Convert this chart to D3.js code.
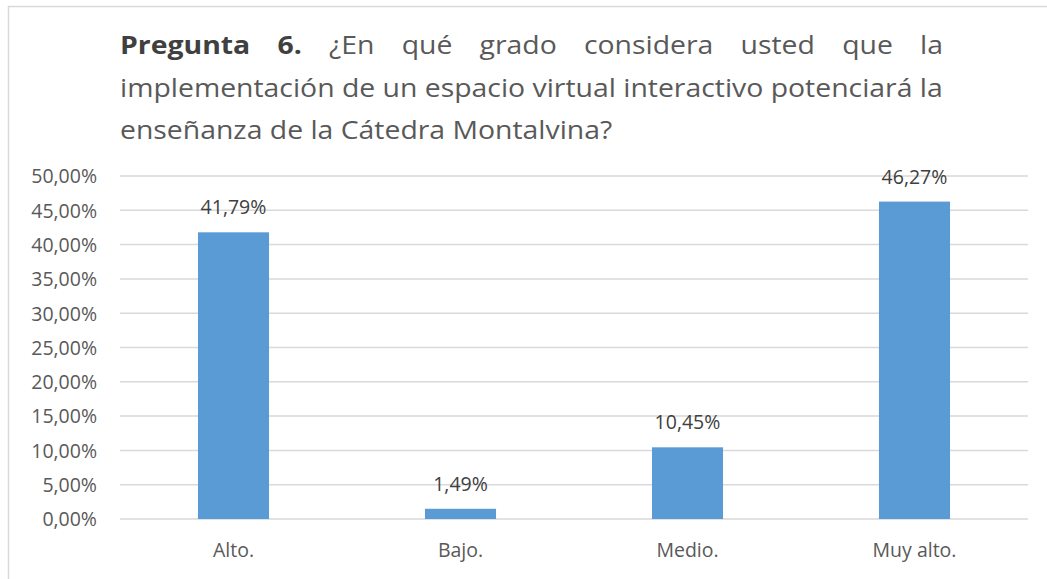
<!DOCTYPE html>
<html><head><meta charset="utf-8">
<script src="https://cdn.jsdelivr.net/npm/d3@7"></script>
<style>body{margin:0;background:#fff}svg{display:block}text{font-family:"Open Sans",sans-serif}</style>
</head><body>
<svg id="c" width="1047" height="579"></svg>
<script>
const categories = ["Alto.", "Bajo.", "Medio.", "Muy alto."];
const values = [41.79, 1.49, 10.45, 46.27];
const valueLabels = ["41,79%", "1,49%", "10,45%", "46,27%"];
const yTicks = [0, 5, 10, 15, 20, 25, 30, 35, 40, 45, 50];
const titleBold = "Pregunta 6.";
const titleLines = [
  "¿En qué grado considera usted que la",
  "implementación de un espacio virtual interactivo potenciará la",
  "enseñanza de la Cátedra Montalvina?"
];

const svg = d3.select("#c");
const W = 1047, H = 579;
const pLeft = 120, pRight = 1028, pTop = 176, pBottom = 519;
const txt = "#595959";
const lblSize = 19.5;

// border
svg.append("line").attr("x1", 8).attr("x2", W).attr("y1", 6.5).attr("y2", 6.5).attr("stroke", "#d9d9d9").attr("stroke-width", 1.5);
svg.append("line").attr("x1", 8.5).attr("x2", 8.5).attr("y1", 6).attr("y2", H).attr("stroke", "#d9d9d9").attr("stroke-width", 1.5);

const x = d3.scaleBand().domain(categories).range([pLeft, pRight]).paddingInner(0.687).paddingOuter(0.3435);
const y = d3.scaleLinear().domain([0, 50]).range([pBottom, pTop]);

// gridlines
svg.append("g").selectAll("line").data(yTicks).join("line")
  .attr("x1", pLeft).attr("x2", pRight)
  .attr("y1", d => y(d)).attr("y2", d => y(d))
  .attr("stroke", "#d9d9d9").attr("stroke-width", 1.5);

// y axis
const yAxis = d3.axisLeft(y).tickValues(yTicks).tickSize(0).tickPadding(0)
  .tickFormat(d => d3.format(".2f")(d).replace(".", ",") + "%");
const ga = svg.append("g").attr("transform", `translate(97,0)`).call(yAxis);
ga.select(".domain").remove();
ga.selectAll("text").attr("fill", txt).attr("font-size", lblSize).attr("dy", "0.35em").attr("font-family", '"Open Sans",sans-serif');

// x axis
const xAxis = d3.axisBottom(x).tickSize(0).tickPadding(0);
const gx = svg.append("g").attr("transform", `translate(0,${pBottom})`).call(xAxis);
gx.select(".domain").remove();
gx.selectAll("text").attr("fill", txt).attr("font-size", lblSize).attr("dy", null).attr("y", 38).attr("font-family", '"Open Sans",sans-serif');

// bars
svg.append("g").selectAll("rect").data(values).join("rect")
  .attr("x", (d, i) => x(categories[i]))
  .attr("width", x.bandwidth())
  .attr("y", d => y(d))
  .attr("height", d => y(0) - y(d))
  .attr("fill", "#5b9bd5");

// value labels
svg.append("g").selectAll("text").data(values).join("text")
  .attr("x", (d, i) => x(categories[i]) + x.bandwidth() / 2)
  .attr("y", d => y(d) - 18)
  .attr("text-anchor", "middle").attr("font-size", lblSize).attr("fill", "#404040")
  .text((d, i) => valueLabels[i]);

// title (slightly condensed to mimic original face)
const tLeft = 120, tRight = 943;
const fs = 25;
const probe = svg.append("text").attr("font-size", fs).text(titleLines[1]);
const pw = probe.node().getComputedTextLength();
probe.remove();
const k = (tRight - tLeft) / pw;
const tw = pw;
const tg = svg.append("g").attr("transform", `translate(${tLeft},0) scale(${k},1)`);
const baselines = [54, 97, 139];

const words1 = titleBold.split(" ").map(t => ({t, b: true})).concat(titleLines[0].split(" ").map(t => ({t, b: false})));
const w1 = words1.map(w => {
  const p = tg.append("text").attr("font-size", fs).attr("font-weight", w.b ? 700 : 400).text(w.t);
  const l = p.node().getComputedTextLength(); p.remove(); return l;
});
const gap = (tw - d3.sum(w1)) / (words1.length - 1);
let cx = 0;
words1.forEach((w, i) => {
  tg.append("text").attr("x", cx).attr("y", baselines[0]).attr("font-size", fs)
    .attr("font-weight", w.b ? 700 : 400).attr("fill", w.b ? "#404040" : txt).text(w.t);
  cx += w1[i] + gap;
});
tg.append("text").attr("x", 0).attr("y", baselines[1]).attr("font-size", fs).attr("fill", txt).text(titleLines[1]);
tg.append("text").attr("x", 0).attr("y", baselines[2]).attr("font-size", fs).attr("fill", txt).text(titleLines[2]);
</script>
</body></html>
